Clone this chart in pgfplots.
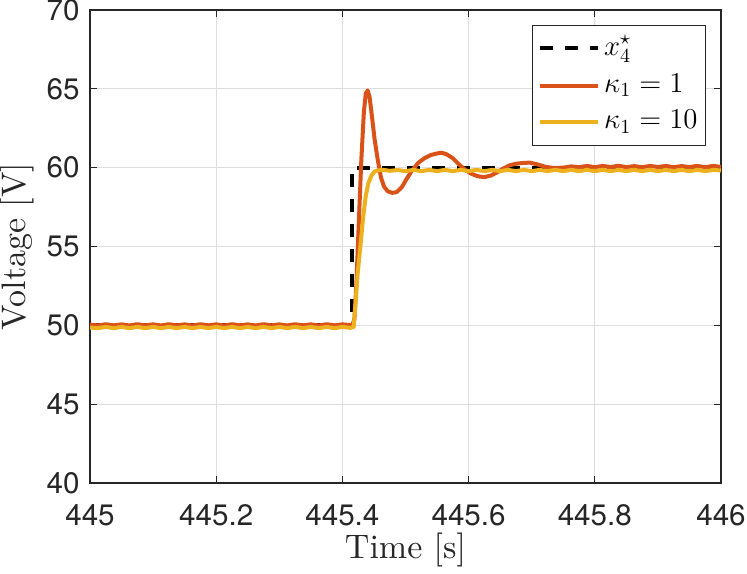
\documentclass[border=0pt]{standalone}
\usepackage{fontspec}
\usepackage{pgfplots}
\pgfplotsset{compat=1.18}
\newfontfamily\heros{TeX Gyre Heros}
\newfontfamily\lmten{lmroman10-regular}[Extension=.otf]
\definecolor{mred}{RGB}{217,83,25}
\definecolor{myellow}{RGB}{237,177,32}
\definecolor{axgray}{RGB}{38,38,38}
\definecolor{gridgray}{RGB}{222,222,222}
\begin{document}
\begin{tikzpicture}
\begin{axis}[
  name=ax,
  scale only axis,
  width=315.5pt, height=236.5pt,
  xmin=445, xmax=446, ymin=40, ymax=70,
  xtick={445,445.2,445.4,445.6,445.8,446},
  xticklabels={445,445.2,445.4,445.6,445.8,446},
  ytick={40,45,50,55,60,65,70},
  yticklabels={40,45,50,55,60,65,70},
  tick align=inside,
  major tick length=3.5pt,
  axis line style={draw=axgray, line width=0.6pt},
  every tick/.style={draw=axgray, line width=0.6pt},
  grid=major,
  major grid style={draw=gridgray, line width=0.5pt},
  ticklabel style={font=\heros\fontsize{14.8}{14.8}\selectfont, text=axgray, inner sep=0pt},
  xticklabel style={yshift=-10.5pt},
  yticklabel style={xshift=-5pt},
  xlabel={Time [s]},
  ylabel={Voltage [V]},
  every axis x label/.style={at={(rel axis cs:0.5,0)}, anchor=north, inner sep=0pt, yshift=-25pt, font=\lmten\fontsize{17}{17}\selectfont, text=axgray},
  every axis y label/.style={at={(rel axis cs:0,0.5)}, rotate=90, anchor=south, inner sep=0pt, yshift=28pt, font=\lmten\fontsize{17}{17}\selectfont, text=axgray},
  legend style={at={(1,1)}, anchor=north east, xshift=-7.5pt, yshift=-7.5pt,
    draw=axgray, line width=0.5pt, fill=white, inner xsep=3pt, inner ysep=3.75pt,
    row sep=3pt, column sep=1pt,
    font=\fontsize{14}{14}\selectfont,
    nodes={inner sep=1pt, text height=10pt, text depth=3.5pt}},
  legend cell align=left,
  legend image code/.code={\draw[#1] (0pt,0pt) -- (29pt,0pt);},
]
\addplot[black, line width=2pt, dash pattern=on 6.5pt off 6pt] coordinates {
(445,50) (445.415,50) (445.415,60) (446,60)};
\addlegendentry{$x_4^\star$}

\addplot[mred, line width=2pt, line join=round] coordinates {
(445.0000,50.05) (445.0125,49.99) (445.0250,50.07) (445.0375,50.00) (445.0500,50.06)
(445.0625,49.99) (445.0750,50.07) (445.0875,50.00) (445.1000,50.06) (445.1125,49.99)
(445.1250,50.07) (445.1375,50.00) (445.1500,50.06) (445.1625,49.99) (445.1750,50.07)
(445.1875,50.00) (445.2000,50.06) (445.2125,49.99) (445.2250,50.07) (445.2375,50.00)
(445.2500,50.06) (445.2625,49.99) (445.2750,50.07) (445.2875,50.00) (445.3000,50.06)
(445.3125,49.99) (445.3250,50.07) (445.3375,50.00) (445.3500,50.06) (445.3625,49.99)
(445.3750,50.07) (445.3875,50.00) (445.4000,50.06) (445.4125,50.02)
(445.4160,50.05) (445.4190,50.4) (445.4220,52.5) (445.4260,56.5) (445.4300,60.5)
(445.4340,63.5) (445.4370,64.7) (445.4400,64.9) (445.4430,64.5) (445.4470,63.2)
(445.4510,61.8) (445.4560,60.5) (445.4610,59.4) (445.4660,58.8) (445.4720,58.5)
(445.4790,58.4) (445.4860,58.45) (445.4940,58.75) (445.5020,59.3) (445.5100,59.8)
(445.5200,60.3) (445.5300,60.6) (445.5400,60.8) (445.5500,60.9) (445.5570,60.95)
(445.5650,60.85) (445.5750,60.6) (445.5850,60.2) (445.5950,59.85) (445.6050,59.6)
(445.6150,59.45) (445.6250,59.4) (445.6350,59.5) (445.6450,59.7) (445.6550,59.95)
(445.6650,60.15) (445.6750,60.25) (445.6870,60.3) (445.6970,60.32) (445.7100,60.2)
(445.7220,60.05) (445.7350,59.98) (445.7500,60.0) (445.7625,60.08) (445.7750,60.03)
(445.7875,60.11) (445.8000,60.03) (445.8125,60.11) (445.8250,60.04) (445.8375,60.12)
(445.8500,60.03) (445.8625,60.10) (445.8750,60.03) (445.8875,60.11) (445.9000,60.04)
(445.9125,60.11) (445.9250,60.03) (445.9375,60.10) (445.9500,60.04) (445.9625,60.11)
(445.9750,60.03) (445.9875,60.11) (446.0000,60.05)};
\addlegendentry{$\kappa_1=1$}

\addplot[myellow, line width=2pt, line join=round] coordinates {
(445.0000,49.86) (445.0125,49.82) (445.0250,49.90) (445.0375,49.82) (445.0500,49.90)
(445.0625,49.82) (445.0750,49.90) (445.0875,49.82) (445.1000,49.90) (445.1125,49.82)
(445.1250,49.90) (445.1375,49.82) (445.1500,49.90) (445.1625,49.82) (445.1750,49.90)
(445.1875,49.82) (445.2000,49.90) (445.2125,49.82) (445.2250,49.90) (445.2375,49.82)
(445.2500,49.90) (445.2625,49.82) (445.2750,49.90) (445.2875,49.82) (445.3000,49.90)
(445.3125,49.82) (445.3250,49.90) (445.3375,49.82) (445.3500,49.90) (445.3625,49.82)
(445.3750,49.90) (445.3875,49.82) (445.4000,49.90) (445.4125,49.84)
(445.4180,49.90) (445.4210,51.5) (445.4240,53.2) (445.4280,54.8) (445.4330,56.9)
(445.4370,58.2) (445.4410,59.0) (445.4460,59.5) (445.4500,59.72) (445.4550,59.82)
(445.4650,59.86) (445.4750,59.80) (445.4875,59.85) (445.5000,59.78) (445.5125,59.86)
(445.5250,59.78) (445.5375,59.86) (445.5500,59.78) (445.5625,59.86) (445.5750,59.78)
(445.5875,59.86) (445.6000,59.78) (445.6125,59.86) (445.6250,59.78) (445.6375,59.86)
(445.6500,59.78) (445.6625,59.86) (445.6750,59.78) (445.6875,59.86) (445.7000,59.78)
(445.7125,59.86) (445.7250,59.78) (445.7375,59.86) (445.7500,59.78) (445.7625,59.86)
(445.7750,59.78) (445.7875,59.86) (445.8000,59.78) (445.8125,59.86) (445.8250,59.78)
(445.8375,59.86) (445.8500,59.78) (445.8625,59.86) (445.8750,59.78) (445.8875,59.86)
(445.9000,59.78) (445.9125,59.86) (445.9250,59.78) (445.9375,59.86) (445.9500,59.78)
(445.9625,59.86) (445.9750,59.78) (445.9875,59.86) (446.0000,59.82)};
\addlegendentry{$\kappa_1=10$}
\end{axis}
\pgfresetboundingbox
\path[use as bounding box] ([shift={(-45pt,-45pt)}]ax.south west) rectangle ([shift={(13pt,5pt)}]ax.north east);
\end{tikzpicture}
\end{document}
